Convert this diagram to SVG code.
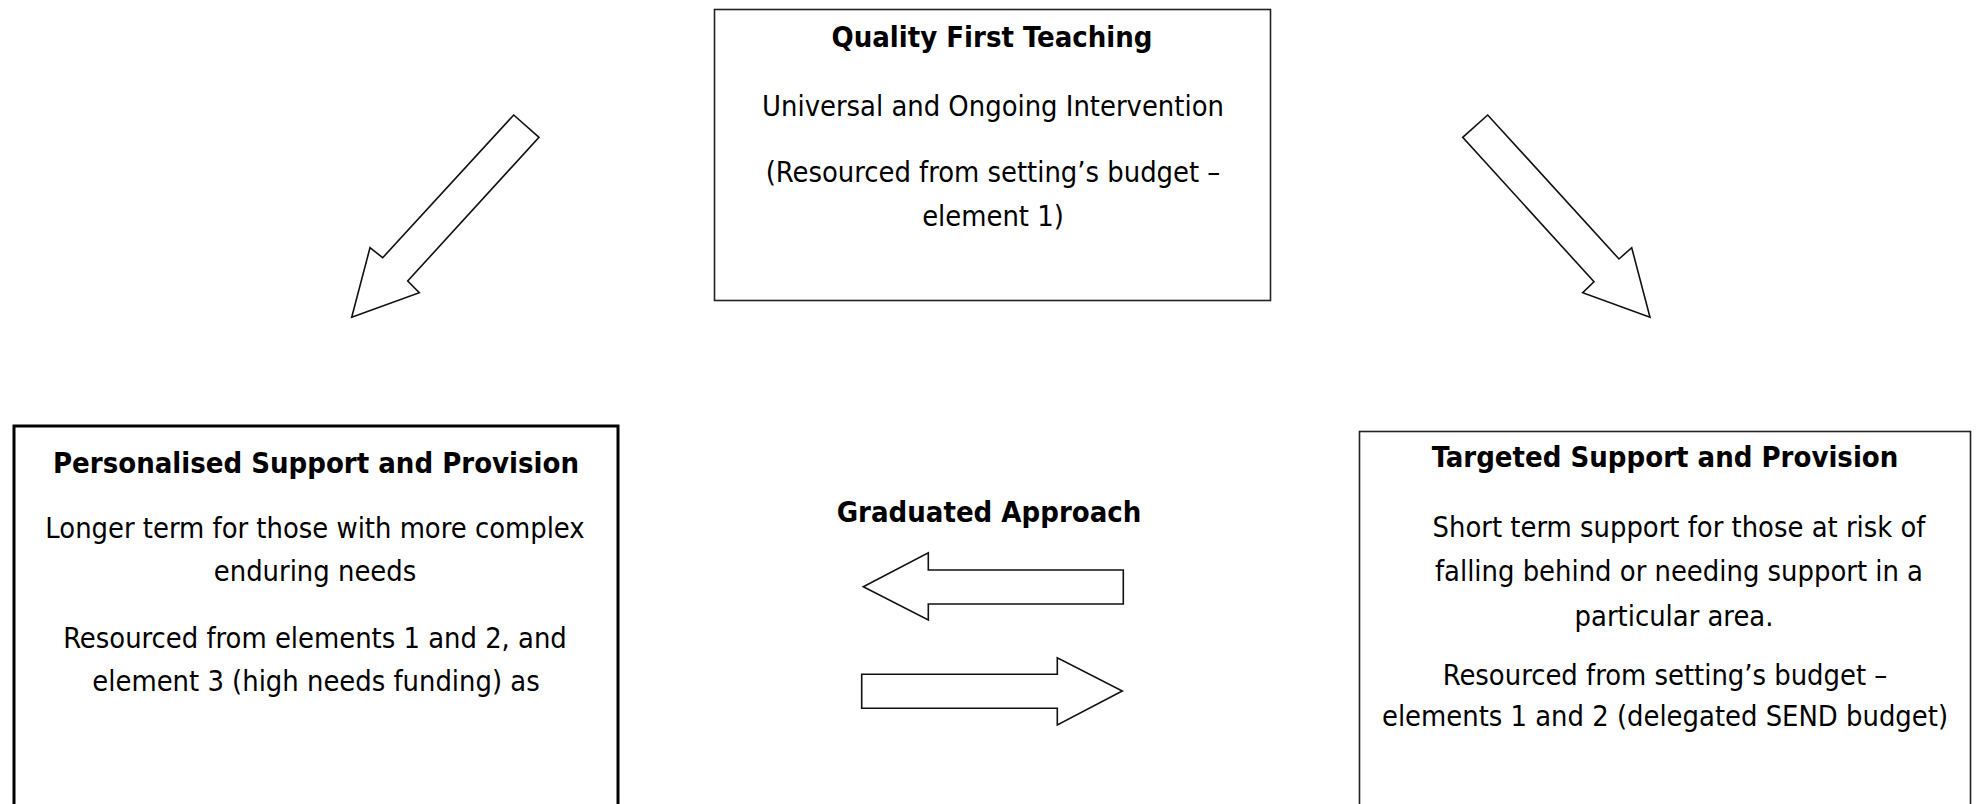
<svg xmlns="http://www.w3.org/2000/svg" width="1977" height="804" viewBox="0 0 1977 804">
<style>
text{font-family:"DejaVu Sans Condensed","DejaVu Sans","Liberation Sans",sans-serif;font-stretch:condensed;font-size:28.8px;fill:#000;text-anchor:middle}
.b{font-weight:bold;font-size:29px}
.box{fill:#fff;stroke:#222;stroke-width:1.6}
.boxk{fill:#fff;stroke:#000;stroke-width:3}
.arr{fill:#fff;stroke:#111;stroke-width:1.6;stroke-linejoin:miter}
</style>
<rect width="1977" height="804" fill="#fff"/>
<g id="quality-first-teaching">
<rect class="box" x="714.5" y="9.5" width="556" height="291"/>
<text class="b" x="992" y="47">Quality First Teaching</text>
<text x="993" y="116">Universal and Ongoing Intervention</text>
<text x="993" y="182">(Resourced from setting’s budget –</text>
<text x="993" y="226">element 1)</text>
</g>
<g id="personalised-support">
<rect class="boxk" x="14" y="426" width="604" height="400"/>
<text class="b" x="316" y="473">Personalised Support and Provision</text>
<text x="315" y="538">Longer term for those with more complex</text>
<text x="315" y="581">enduring needs</text>
<text x="315" y="648">Resourced from elements 1 and 2, and</text>
<text x="316" y="691">element 3 (high needs funding) as</text>
</g>
<g id="targeted-support">
<rect class="box" x="1359.5" y="431.5" width="611" height="400"/>
<text class="b" x="1665" y="467">Targeted Support and Provision</text>
<text x="1679" y="537">Short term support for those at risk of</text>
<text x="1679" y="581">falling behind or needing support in a</text>
<text x="1674" y="626">particular area.</text>
<text x="1665" y="685">Resourced from setting’s budget –</text>
<text x="1665" y="726">elements 1 and 2 (delegated SEND budget)</text>
</g>
<g id="graduated-approach">
<text class="b" x="989" y="522">Graduated Approach</text>
</g>
<g id="connectors">
<polygon class="arr" points="513.7,115 539,137.3 407.7,281 419.3,292.7 351.7,317.3 370,247.7 382.7,257.7"/>
<polygon class="arr" points="1487.7,115 1462.7,137.3 1594,281.7 1582.7,292.7 1650,317.3 1631.7,247.7 1619,259"/>
<polygon class="arr" points="863.3,586.7 928.3,552.7 928.3,570 1123.3,570 1123.3,604 928.3,604 928.3,620"/>
<polygon class="arr" points="861.7,674.3 1057.3,674.3 1057.3,657.7 1122.3,691 1057.3,725 1057.3,708.3 861.7,708.3"/>
</g>
</svg>
